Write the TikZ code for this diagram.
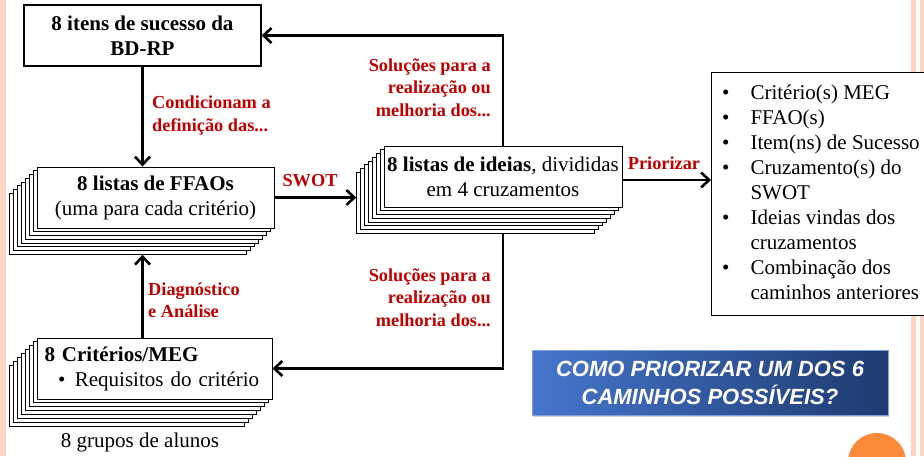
\documentclass[tikz,border=0pt]{standalone}
\usepackage{fontspec}
\setmainfont{Liberation Serif}
\newfontfamily\arialfont{Liberation Sans}
\usetikzlibrary{arrows.meta,shadows}
\definecolor{redlab}{HTML}{C00000}
\definecolor{stripe}{HTML}{FDD3C3}
\definecolor{orangedot}{HTML}{FD8A3A}
\definecolor{blueL}{HTML}{4676CC}
\definecolor{blueR}{HTML}{1E3A70}
\begin{document}
\begin{tikzpicture}[x=1pt,y=-1pt,
  card/.style={draw, fill=white, line width=0.9pt, minimum width=237pt, minimum height=61pt, inner sep=0pt},
  boxtext/.style={font=\fontsize{21}{25}\selectfont, align=center},
  arr/.style={line width=2.6pt, -{Straight Barb[length=8pt,width=15pt]}},
  lab/.style={text=redlab, font=\fontsize{18.3}{22.5}\selectfont\bfseries, inner sep=0pt},
]
\useasboundingbox (0,0) rectangle (924,456);
\clip (0,0) rectangle (924,456);
% decorations
\fill[stripe] (0,0) rectangle (6,456);
\fill[stripe] (911,0) rectangle (915.5,456);
\fill[stripe] (920,0) rectangle (924,456);
\fill[orangedot] (877,462) circle (29pt);

% top box
\node[card, boxtext, font=\fontsize{21}{25}\selectfont\bfseries, line width=1.2pt] (top) at (142.5,35.5) {8 itens de sucesso da\\BD-RP};

% FFAO stack
\foreach \k in {7,6,...,1} {
  \node[card] (ffao\k) at (155.5-3.9*\k,197.5+3.75*\k) {};
}
\node[card, boxtext] (ffao) at (155.5,197.5) {\textbf{8 listas de FFAOs}\\(uma para cada critério)};

% ideas stack
\foreach \k in {7,6,...,1} {
  \node[card, minimum width=238pt] (ideas\k) at (503-3.9*\k,176.5+3.75*\k) {};
}
\node[card, boxtext, minimum width=238pt] (ideas) at (503,176.5) {\textbf{8 listas de ideias}, divididas\\em 4 cruzamentos};

% criteria stack
\foreach \k in {7,6,...,1} {
  \node[card, minimum width=235pt] (crit\k) at (154.5-3.9*\k,368.5+3.9*\k) {};
}
\node[card, minimum width=235pt, text width=220pt, align=left, font=\fontsize{21}{25}\selectfont] (crit) at (154.5,368.5)
  {\textbf{8 Critérios/MEG}\\\hspace*{13.5pt}\textbullet\hspace{9.5pt}Requisitos do critério};
\node[font=\fontsize{21}{25}\selectfont, inner sep=0pt] (grp) at (140,442) {8 grupos de alunos};

% right box
\node[draw, fill=white, line width=0.9pt, anchor=north west, minimum width=240pt, minimum height=243pt, inner sep=0pt] (prio) at (711,72) {};
\node[anchor=north west, inner sep=0pt, font=\fontsize{21}{25}\selectfont] (priotext) at (722,81.5) {%
  \begin{tabular}{@{}l@{\hspace{21pt}}l@{}}
  \textbullet & Critério(s) MEG\\
  \textbullet & FFAO(s)\\
  \textbullet & Item(ns) de Sucesso\\
  \textbullet & Cruzamento(s) do\\
              & SWOT\\
  \textbullet & Ideias vindas dos\\
              & cruzamentos\\
  \textbullet & Combinação dos\\
              & caminhos anteriores
  \end{tabular}};

% question box
\node[shading=axis, left color=blueL, right color=blueR, draw=blueL!70!white, line width=0.6pt,
  drop shadow={opacity=0.35, shadow xshift=1pt, shadow yshift=-2pt},
  minimum width=356pt, minimum height=65pt, inner sep=0pt, text=white, align=center,
  font=\arialfont\bfseries\itshape\fontsize{22}{28}\selectfont] (q) at (710,382.5)
  {COMO PRIORIZAR UM DOS 6\\CAMINHOS POSSÍVEIS?};

% connectors
\draw[arr] (top.south) -- (top.south |- ffao.north);
\draw[arr] (crit.north -| top.south) -- (top.south |- ffao7.south);
\draw[arr] (ffao.east) -- (ffao.east -| ideas7.west);
\draw[arr] ([yshift=-3.5pt]ideas.east) -- ([yshift=-3.5pt]ideas.east -| prio.west);
\draw[arr] (ideas.north) |- (top.east);
\draw[arr] (ideas.south |- ideas7.south) |- (crit.east);

% labels
\node[lab, anchor=west, align=left] (l1) at (152,115.5) {Condicionam a\\definição das...};
\node[lab, anchor=east, align=right] (l2) at (491,87.5) {Soluções para a\\realização ou\\melhoria dos...};
\node[lab, anchor=east, align=right] (l3) at (491,297.5) {Soluções para a\\realização ou\\melhoria dos...};
\node[lab] (l4) at (310,181) {SWOT};
\node[lab] (l5) at (664,163) {Priorizar};
\node[lab, anchor=west, align=left] (l6) at (148,300) {Diagnóstico\\e Análise};
\end{tikzpicture}
\end{document}
